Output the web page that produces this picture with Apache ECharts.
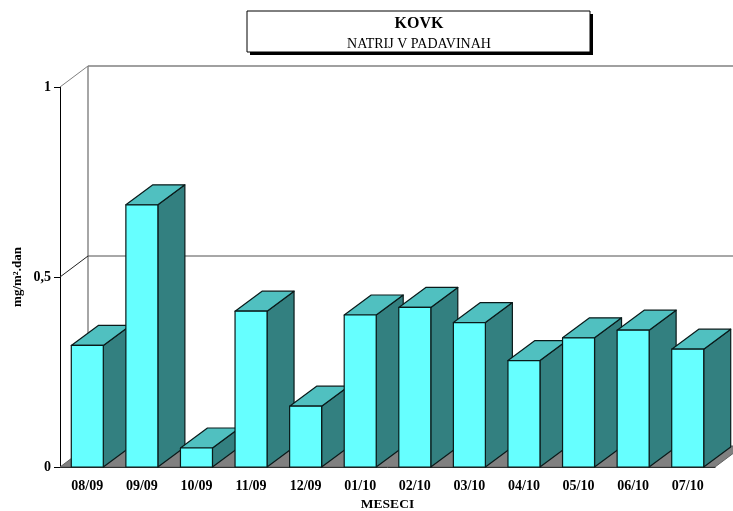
<!DOCTYPE html>
<html>
<head>
<meta charset="utf-8">
<style>html,body{margin:0;padding:0;background:#fff}#c{width:733px;height:511px}</style>
<script src="https://cdn.jsdelivr.net/npm/echarts@6/dist/echarts.min.js"></script>
</head>
<body>
<div id="c"></div>
<script>
const months = ['08/09','09/09','10/09','11/09','12/09','01/10','02/10','03/10','04/10','05/10','06/10','07/10'];
const sodium = [0.32,0.69,0.05,0.41,0.16,0.40,0.42,0.38,0.28,0.34,0.36,0.31];
const wallLevels = [0.5,1];
const titleText = 'KOVK';
const subtitleText = 'NATRIJ V PADAVINAH';
const xName = 'MESECI';
const yName = 'mg/m².dan';

const DX = 27, DY = 20, WX = 28, WY = 21, BAR = 32;
const FONT = '"Liberation Serif","Times New Roman",serif';
const chart = echarts.init(document.getElementById('c'), null, {renderer:'canvas'});

function backdrop(params, api){
  const c = params.coordSys;
  const x0 = c.x, x1 = c.x + c.width, y0 = c.y + c.height;
  const children = [{
    type:'polygon',
    shape:{points:[[x0,y0],[x1,y0],[x1+WX,y0-WY],[x0+WX,y0-WY]]},
    style:{fill:'#808080',stroke:'#606060',lineWidth:1}
  },{
    type:'line',
    shape:{x1:x0+WX,y1:y0-WY,x2:x0+WX,y2:c.y-WY},
    style:{stroke:'#808080',lineWidth:1.4}
  }];
  wallLevels.forEach(function(v){
    const y = api.coord([0,v])[1];
    const top = v === 1;
    children.push({type:'line',shape:{x1:x0,y1:y,x2:x0+WX,y2:y-WY},
      style:{stroke:top?'#808080':'#202020',lineWidth:1}});
    children.push({type:'line',shape:{x1:x0+WX,y1:y-WY,x2:x1+WX,y2:y-WY},
      style:{stroke:top?'#808080':'#505050',lineWidth:top?1.4:1}});
  });
  return {type:'group',children:children};
}

function bar3d(params, api){
  const p = api.coord([api.value(0),api.value(1)]);
  const b = api.coord([api.value(0),0]);
  const l = p[0]-BAR/2, r = p[0]+BAR/2, t = p[1], y = b[1];
  const edge = {stroke:'#0a1a1a',lineWidth:1.2,lineJoin:'round'};
  return {type:'group',children:[
    {type:'polygon',shape:{points:[[r,t],[r+DX,t-DY],[r+DX,y-DY],[r,y]]},
      style:Object.assign({fill:'#338080'},edge)},
    {type:'polygon',shape:{points:[[l,t],[l+DX,t-DY],[r+DX,t-DY],[r,t]]},
      style:Object.assign({fill:'#50C0C0'},edge)},
    {type:'rect',shape:{x:l,y:t,width:BAR,height:y-t},
      style:Object.assign({fill:'#66FFFF'},edge)}
  ]};
}

chart.setOption({
  animation:false,
  backgroundColor:'#fff',
  textStyle:{fontFamily:FONT},
  grid:{left:60,right:18,top:87,bottom:44,containLabel:false,outerBoundsMode:'none'},
  title:{
    text:titleText,subtext:subtitleText,left:419,top:16,textAlign:'center',itemGap:5,padding:0,
    textStyle:{fontFamily:FONT,fontWeight:'bold',fontSize:16,color:'#000'},
    subtextStyle:{fontFamily:FONT,fontSize:14,color:'#000'}
  },
  graphic:[
    {type:'rect',z:-1,shape:{x:250,y:14,width:343,height:41},style:{fill:'#000'}},
    {type:'rect',z:-1,shape:{x:247,y:11,width:343,height:41},style:{fill:'#fff',stroke:'#000',lineWidth:1}}
  ],
  xAxis:{
    type:'category',data:months,name:xName,nameLocation:'middle',nameGap:31,
    nameTextStyle:{fontFamily:FONT,fontWeight:'bold',fontSize:13.5,color:'#000'},
    axisLine:{lineStyle:{color:'#000',width:1}},
    axisTick:{alignWithLabel:false,length:7,lineStyle:{color:'#000',width:1}},
    axisLabel:{margin:12,fontFamily:FONT,fontWeight:'bold',fontSize:14,color:'#000'},
    splitLine:{show:false}
  },
  yAxis:{
    type:'value',min:0,max:1,interval:0.5,name:yName,nameLocation:'middle',nameGap:36,nameMoveOverlap:false,
    nameTextStyle:{fontFamily:FONT,fontWeight:'bold',fontSize:13,color:'#000'},
    axisLine:{show:true,lineStyle:{color:'#000',width:1}},
    axisTick:{show:true,length:6,lineStyle:{color:'#000',width:1}},
    axisLabel:{margin:9,fontFamily:FONT,fontWeight:'bold',fontSize:14,color:'#000',
      formatter:function(v){return String(v).replace('.',',');}},
    splitLine:{show:false}
  },
  series:[
    {type:'custom',name:'backdrop',data:[[0,0]],renderItem:backdrop,clip:false,silent:true,z:1},
    {type:'custom',name:'Natrij',data:months.map(function(m,i){return [i,sodium[i]];}),
      encode:{x:0,y:1},renderItem:bar3d,clip:false,z:3}
  ]
});
</script>
</body>
</html>
